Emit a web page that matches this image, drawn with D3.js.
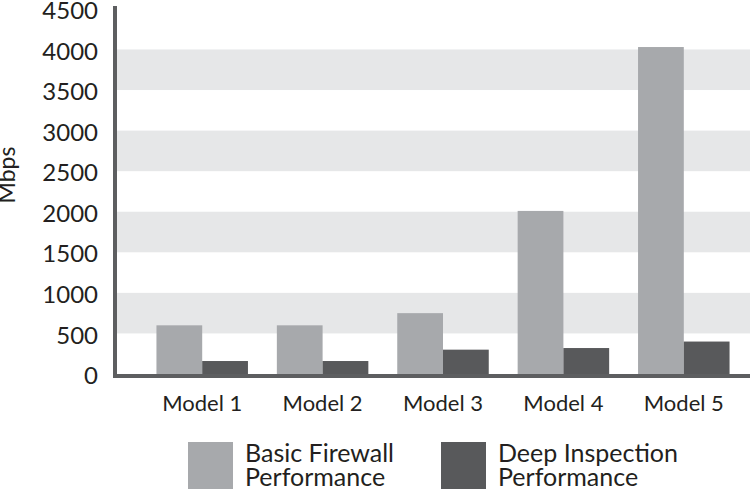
<!DOCTYPE html>
<html>
<head>
<meta charset="utf-8">
<script src="https://cdn.jsdelivr.net/npm/d3@7"></script>
<style>
  body { margin: 0; background: #fff; }
  svg { display: block; font-family: Lato, "Open Sans", sans-serif; }
</style>
</head>
<body>
<div id="chart"></div>
<script>
// data
const models = ["Model 1", "Model 2", "Model 3", "Model 4", "Model 5"];
const basicFirewall = [600, 600, 750, 2010, 4030];
const deepInspection = [160, 160, 300, 320, 400];
const yTicks = [0, 500, 1000, 1500, 2000, 2500, 3000, 3500, 4000, 4500];
const seriesNames = [["Basic Firewall", "Performance"], ["Deep Inspection", "Performance"]];
const seriesColors = ["#a7a9ac", "#58595b"];

const width = 753, height = 491;

const svg = d3.select("#chart").append("svg")
    .attr("width", width)
    .attr("height", height);

// scales
const y = d3.scaleLinear().domain([0, 4500]).range([374, 8.9]);
const x = d3.scaleBand().domain(models).range([142, 744]).paddingInner(0.24).paddingOuter(0.12);
const xs = d3.scaleBand().domain([0, 1]).range([0, x.bandwidth()]);

// alternating grey bands
const bands = d3.pairs(yTicks).filter((d, i) => i % 2 === 1);
svg.selectAll(".band")
    .data(bands)
    .enter()
    .append("rect")
    .attr("class", "band")
    .attr("x", 116)
    .attr("width", 750 - 116)
    .attr("y", d => y(d[1]))
    .attr("height", d => y(d[0]) - y(d[1]))
    .attr("fill", "#e6e7e8");

// bars
const groups = svg.selectAll(".grp")
    .data(models)
    .enter()
    .append("g")
    .attr("transform", d => `translate(${x(d)},0)`);

groups.selectAll("rect")
    .data((d, i) => [basicFirewall[i], deepInspection[i]])
    .enter()
    .append("rect")
    .attr("x", (d, j) => xs(j))
    .attr("width", xs.bandwidth())
    .attr("y", d => y(d))
    .attr("height", d => y(0) - y(d))
    .attr("fill", (d, j) => seriesColors[j]);

// y axis
const yAxis = svg.append("g")
    .attr("transform", "translate(115,0)")
    .call(d3.axisLeft(y).tickValues(yTicks).tickFormat(d3.format("d")).tickSize(0).tickPadding(17));
yAxis.select(".domain").remove();
yAxis.selectAll("text")
    .attr("dy", "0.4em")
    .style("font-family", "Lato, sans-serif")
    .style("font-size", "24px")
    .attr("fill", "#231f20");

// x axis labels
const xAxis = svg.append("g")
    .attr("transform", `translate(0,${y(0)})`)
    .call(d3.axisBottom(x).tickSize(0).tickPadding(21));
xAxis.select(".domain").remove();
xAxis.selectAll("text")
    .style("font-family", "Lato, sans-serif")
    .style("font-size", "22px")
    .attr("fill", "#231f20");

// thick axis lines
svg.append("line")
    .attr("x1", 115).attr("x2", 115)
    .attr("y1", 6).attr("y2", 378)
    .attr("stroke", "#5d5e60").attr("stroke-width", 4);
svg.append("line")
    .attr("x1", 113).attr("x2", 750)
    .attr("y1", 376).attr("y2", 376)
    .attr("stroke", "#5d5e60").attr("stroke-width", 4);

// y axis title
svg.append("text")
    .attr("transform", "translate(15,175) rotate(-90)")
    .attr("text-anchor", "middle")
    .style("font-size", "23px")
    .attr("fill", "#231f20")
    .text("Mbps");

// legend
const legend = svg.selectAll(".legend")
    .data(seriesNames)
    .enter()
    .append("g")
    .attr("transform", (d, i) => `translate(${188 + i * 253},442)`);

legend.append("rect")
    .attr("width", 45)
    .attr("height", 47)
    .attr("fill", (d, i) => seriesColors[i]);

legend.append("text")
    .attr("y", 20)
    .style("font-size", "25px")
    .attr("fill", "#231f20")
    .selectAll("tspan")
    .data(d => d)
    .enter()
    .append("tspan")
    .attr("x", 57)
    .attr("dy", (d, i) => i === 0 ? 0 : 24)
    .text(d => d);
</script>
</body>
</html>
